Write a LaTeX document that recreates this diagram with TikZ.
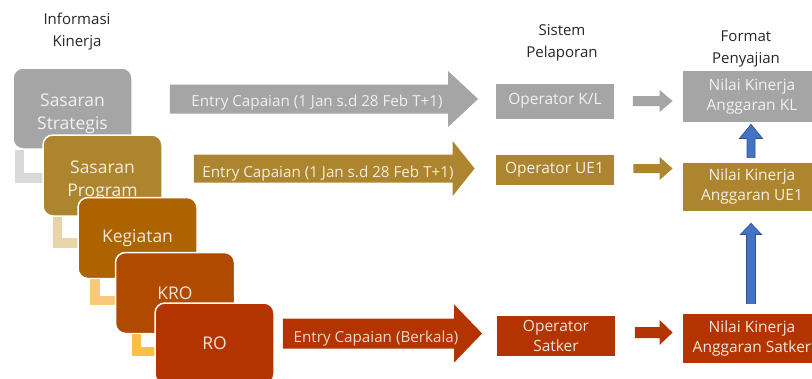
\documentclass[tikz,border=0pt]{standalone}
\usepackage{fontspec}
\setmainfont{Open Sans}
\usetikzlibrary{calc}

\definecolor{cGray}{HTML}{A5A5A5}
\definecolor{cGold}{HTML}{AE852F}
\definecolor{cAmber}{HTML}{AD6300}
\definecolor{cRust}{HTML}{AF4A00}
\definecolor{cRed}{HTML}{B43400}
\definecolor{lGray}{HTML}{D9D9D9}
\definecolor{lTan}{HTML}{E8D4AA}
\definecolor{lYellow}{HTML}{F8C978}
\definecolor{lOrange}{HTML}{FDBF45}
\definecolor{cBlue}{HTML}{4472C4}
\definecolor{cBlueLine}{HTML}{2F528F}
\definecolor{cHead}{HTML}{262626}

% horizontal block arrow: fill, start, end, shaft half height, head half height, head length
\newcommand{\blockarrow}[6]{%
  \fill[#1] let \p1=#2, \p2=#3 in
    (\x1,\y1+#4) -- (\x2-#6,\y1+#4) -- (\x2-#6,\y1+#5) -- (\x2,\y1)
    -- (\x2-#6,\y1-#5) -- (\x2-#6,\y1-#4) -- (\x1,\y1-#4) -- cycle;}

% upward block arrow: base, tip, shaft half width, head half width, head length
\newcommand{\blockup}[5]{%
  \filldraw[fill=cBlue, draw=cBlueLine, line width=0.7pt] let \p1=#1, \p2=#2 in
    (\x1-#3,\y1) -- (\x1-#3,\y2-#5) -- (\x1-#4,\y2-#5) -- (\x1,\y2)
    -- (\x1+#4,\y2-#5) -- (\x1+#3,\y2-#5) -- (\x1+#3,\y1) -- cycle;}

% two centred lines, lowered a little inside their box
\newcommand{\twolines}[2]{\raisebox{-5pt}[\height][\depth]{\begin{tabular}{@{}c@{}}#1\\#2\end{tabular}}}

\tikzset{
  header/.style={align=center, text=cHead, font=\fontsize{15}{22}\selectfont, inner sep=0pt},
  hbox/.style={draw=white, line width=1.5pt, rounded corners=10pt,
    minimum width=119pt, minimum height=81pt, inner sep=0pt, align=center,
    font=\fontsize{17.5}{23}\selectfont},
  lconn/.style={line width=9.5pt},
  opbox/.style={draw=white, line width=0.8pt, minimum width=119pt, inner sep=0pt,
    align=center, font=\fontsize{15.5}{20}\selectfont},
  nkbox/.style={draw=white, line width=0.8pt, minimum width=140pt, inner sep=0pt,
    align=center, font=\fontsize{15.5}{20}\selectfont},
  arrowtext/.style={inner sep=0pt, font=\fontsize{15.2}{18}\selectfont},
}

\begin{document}
\begin{tikzpicture}[x=1pt, y=-1pt]
\useasboundingbox (0,0) rectangle (812,378);
\clip (0,0) rectangle (812,378);

% column headers
\node[header] (hInfo) at (77,32) {Informasi\\Kinerja};
\node[header] (hSys)  at (562,43) {Sistem\\Pelaporan};
\node[header] (hFmt)  at (746,49) {Format\\Penyajian};

% hierarchy of performance information
\node[hbox, fill=cGray, text=white!85!cGray] (ss) at (72.5,108.5) {\twolines{Sasaran}{Strategis}};
\draw[lconn, lGray] ($(ss.south west)+(7,0)$) |- (45,178);
\node[hbox, fill=cGold, text=white!85!cGold] (sp) at (102.5,175.5) {\twolines{Sasaran}{Program}};
\draw[lconn, lTan] ($(sp.south west)+(15,0)$) |- (80,243);
\node[hbox, fill=cAmber, text=white!85!cAmber] (kg) at (137.5,238) {Kegiatan};
\draw[lconn, lYellow] ($(kg.south west)+(17.5,0)$) |- (117,300.5);
\node[hbox, fill=cRust, text=white!85!cRust] (kro) at (175,293) {KRO};
\draw[lconn, lOrange] ($(kro.south west)+(21.5,0)$) |- (157,351.5);
\node[hbox, fill=cRed, text=white!85!cRed] (ro) at (214.5,343.5) {RO};

% reporting systems
\node[opbox, fill=cGray, minimum height=36pt, text=white!85!cGray] (opKL) at (555,101) {Operator K/L};
\node[opbox, fill=cGold, minimum height=31pt, text=white!88!cGold] (opUE) at (554.5,169.5) {Operator UE1};
\node[opbox, fill=cRed, minimum height=41pt, text=white!85!cRed] (opSat) at (556,335.5) {Operator\\Satker};

% presentation formats
\node[nkbox, fill=cGray, minimum height=52pt, text=white!85!cGray] (nkKL) at (752,96) {Nilai Kinerja\\Anggaran KL};
\node[nkbox, fill=cGold, minimum height=49pt, text=white!88!cGold] (nkUE) at (752,186.5) {Nilai Kinerja\\Anggaran UE1};
\node[nkbox, fill=cRed, minimum height=50pt, text=white!88!cRed] (nkSat) at (752,338) {Nilai Kinerja\\Anggaran Satker};

% entry arrows from the hierarchy to the reporting systems
\blockarrow{cGray}{($(ss.east |- opKL.west)+(37,-2)$)}{($(opKL.west)+(-17,0)$)}{14.5pt}{28pt}{30pt}
\blockarrow{cGold}{($(sp.east |- opUE.west)+(31,-1)$)}{($(opUE.west)+(-20,0)$)}{14pt}{27.5pt}{22pt}
\blockarrow{cRed}{($(ro.east |- opSat.west)+(8,-2)$)}{($(opSat.west)+(-14,0)$)}{15pt}{29pt}{28pt}

\node[arrowtext, text=white!82!cGray] (tKL) at (317,103) {Entry Capaian (1 Jan s.d 28 Feb T+1)};
\node[arrowtext, text=white!85!cGold] (tUE) at (328,174) {Entry Capaian (1 Jan s.d 28 Feb T+1)};
\node[arrowtext, text=white!80!cRed] (tSat) at (376,339) {Entry Capaian (Berkala)};

% arrows from reporting systems to presentation formats
\blockarrow{cGray}{($(opKL.east)+(18,0)$)}{($(nkKL.west)+(-9,0)$)}{5pt}{11pt}{13pt}
\blockarrow{cGold}{($(opUE.east)+(19,-1)$)}{($(nkUE.west |- opUE.east)+(-9,-1)$)}{4.5pt}{11.5pt}{13pt}
\blockarrow{cRed}{($(opSat.east)+(19,-3)$)}{($(nkSat.west |- opSat.east)+(-9,-3)$)}{5.5pt}{12.5pt}{13pt}

% aggregation upwards
\blockup{($(nkUE.north)+(-1,-4)$)}{($(nkKL.south)+(-1,2)$)}{4pt}{11.5pt}{14pt}
\blockup{($(nkSat.north)+(-1,-9)$)}{($(nkUE.south)+(-1,12)$)}{4.5pt}{10.5pt}{11pt}
\end{tikzpicture}
\end{document}
